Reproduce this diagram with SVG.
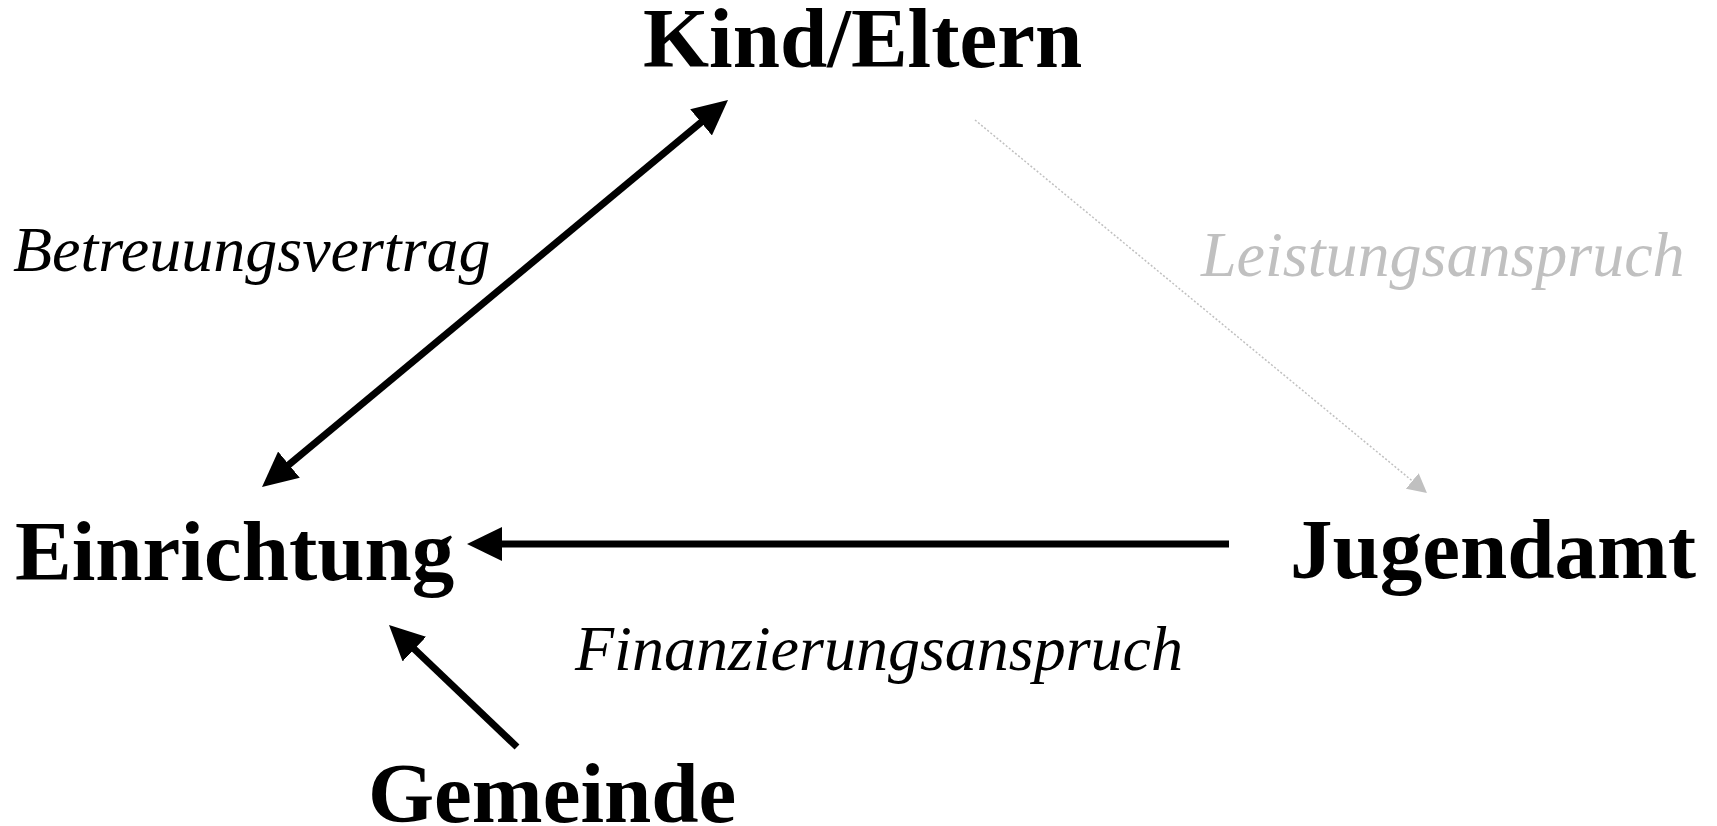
<svg xmlns="http://www.w3.org/2000/svg" width="1717" height="826" viewBox="0 0 1717 826">
  <style>
    .node { font-family: "Liberation Serif", "Times New Roman", serif; font-weight: bold; font-size: 85px; fill: #000; }
    .lbl { font-family: "Liberation Serif", "Times New Roman", serif; font-style: italic; font-size: 64px; fill: #000; }
    .lbl.gray { fill: #c0c0c0; }
    .conn { stroke: #000; stroke-width: 7; fill: none; }
    .conn.gray { stroke: #c0c0c0; stroke-width: 1.5; stroke-dasharray: 2 2; }
  </style>
  <defs>
    <marker id="ah" markerUnits="userSpaceOnUse" markerWidth="35" markerHeight="34" refX="15" refY="17" orient="auto-start-reverse" viewBox="0 0 35 34">
      <path d="M0,0 L35,17 L0,34 z" fill="#000"/>
    </marker>
    <marker id="ahg" markerUnits="userSpaceOnUse" markerWidth="19" markerHeight="20" refX="7" refY="10" orient="auto" viewBox="0 0 19 20">
      <path d="M0,0 L19,10 L0,20 z" fill="#c0c0c0"/>
    </marker>
  </defs>
  <rect width="1717" height="826" fill="#fff"/>
  <g id="connectors">
    <line class="conn" x1="277.4" y1="474.2" x2="712.6" y2="112.8" marker-start="url(#ah)" marker-end="url(#ah)"/>
    <line class="conn" x1="1229" y1="544" x2="487" y2="544" marker-end="url(#ah)"/>
    <line class="conn" x1="517" y1="747" x2="403.5" y2="638.8" marker-end="url(#ah)"/>
    <line class="conn gray" x1="975" y1="120" x2="1417.7" y2="485.4" marker-end="url(#ahg)"/>
    <text class="lbl" x="13" y="271">Betreuungsvertrag</text>
    <text class="lbl gray" x="1201" y="276">Leistungsanspruch</text>
    <text class="lbl" x="575" y="670">Finanzierungsanspruch</text>
  </g>
  <g id="kind-eltern"><text class="node" x="643" y="67">Kind/Eltern</text></g>
  <g id="einrichtung"><text class="node" x="15" y="580">Einrichtung</text></g>
  <g id="jugendamt"><text class="node" x="1290" y="578">Jugendamt</text></g>
  <g id="gemeinde"><text class="node" x="368" y="822">Gemeinde</text></g>
</svg>
